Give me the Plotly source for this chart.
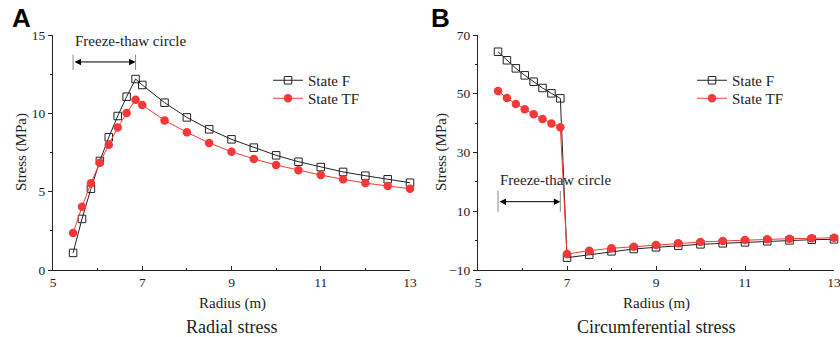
import plotly.graph_objects as go

radius = [5.45, 5.65, 5.85, 6.05, 6.25, 6.45, 6.65, 6.85, 7.0, 7.5, 8.0, 8.5,
          9.0, 9.5, 10.0, 10.5, 11.0, 11.5, 12.0, 12.5, 13.0]

radial_F = [1.09, 3.26, 5.19, 6.96, 8.47, 9.83, 11.06, 12.19, 11.81, 10.68, 9.74,
            8.98, 8.34, 7.81, 7.32, 6.91, 6.57, 6.26, 6.02, 5.79, 5.57]
radial_TF = [2.36, 4.04, 5.53, 6.85, 8.00, 9.09, 10.02, 10.87, 10.53, 9.55, 8.79,
             8.11, 7.55, 7.09, 6.70, 6.36, 6.06, 5.79, 5.55, 5.36, 5.19]

circ_F = [64.3, 61.4, 58.65, 56.27, 54.1, 51.96, 50.14, 48.44, -5.8, -4.78, -3.65,
          -2.85, -2.28, -1.72, -1.26, -0.92, -0.58, -0.24, 0.09, 0.32, 0.44]
circ_TF = [50.94, 48.55, 46.5, 44.7, 43.0, 41.4, 39.9, 38.57, -4.55, -3.42, -2.62,
           -2.06, -1.49, -0.92, -0.47, -0.13, 0.21, 0.44, 0.67, 0.78, 1.0]

x_ticks = [5, 7, 9, 11, 13]
yA_ticks = [0, 5, 10, 15]
yB_ticks = [-10, 10, 30, 50, 70]

series_names = ["State F", "State TF"]
panel_titles = ["Radial stress", "Circumferential stress"]
panel_letters = ["A", "B"]
x_title = "Radius (m)"
y_title = "Stress (MPa)"
band_label = "Freeze-thaw circle"
band_start, band_end = 5.45, 6.85

W, H = 840, 337
SERIF = "Liberation Serif"
BLACK = "#222222"
RED = "#f73838"

fig = go.Figure()

def add_pair(xref, yref, yF, yTF, legF, legTF):
    fig.add_trace(go.Scatter(
        x=radius, y=yF, name=series_names[0], mode="lines+markers",
        xaxis=xref, yaxis=yref, legend=legF, cliponaxis=False,
        line=dict(color=BLACK, width=1),
        marker=dict(symbol="square-open", size=7.5, color=BLACK, line=dict(width=1))))
    fig.add_trace(go.Scatter(
        x=radius, y=yTF, name=series_names[1], mode="lines+markers",
        xaxis=xref, yaxis=yref, legend=legTF, cliponaxis=False,
        line=dict(color=RED, width=1),
        marker=dict(symbol="circle", size=8.5, color=RED)))

add_pair("x", "y", radial_F, radial_TF, "legend", "legend3")
add_pair("x2", "y2", circ_F, circ_TF, "legend2", "legend4")

ydom = [1 - 270 / H, 1 - 35 / H]
axis_common = dict(showline=True, linecolor=BLACK, linewidth=1,
                   ticklen=4, tickcolor=BLACK, showgrid=False, zeroline=False,
                   automargin=False, ticklabeloverflow="allow",
                   tickfont=dict(family=SERIF, size=13.5, color=BLACK))
x_common = dict(ticks="inside", minor=dict(ticks="inside", ticklen=2, tickcolor=BLACK, dtick=1),
                **axis_common)
y_common = dict(ticks="outside", **axis_common)

def leg(xpx, ypx):
    return dict(x=xpx / W, y=1 - ypx / H, xanchor="left", yanchor="top",
                bgcolor="rgba(0,0,0,0)", font=dict(family=SERIF, size=15, color=BLACK),
                itemwidth=30, tracegroupgap=0)

fig.update_layout(
    width=W, height=H, margin=dict(l=0, r=0, t=0, b=0, autoexpand=False),
    paper_bgcolor="white", plot_bgcolor="white",
    font=dict(family=SERIF, color=BLACK),
    xaxis=dict(domain=[53 / W, 410 / W], range=[5, 13], tickvals=x_ticks,
               anchor="y", **x_common),
    yaxis=dict(domain=ydom, range=[0, 15], tickvals=yA_ticks, anchor="x",
               minor=dict(ticks="outside", ticklen=2, tickcolor=BLACK, dtick=2.5),
               **y_common),
    xaxis2=dict(domain=[478 / W, 834 / W], range=[5, 13], tickvals=x_ticks,
                anchor="y2", **x_common),
    yaxis2=dict(domain=ydom, range=[-10, 70], tickvals=yB_ticks, anchor="x2",
                minor=dict(ticks="outside", ticklen=2, tickcolor=BLACK, dtick=10),
                **y_common),
    legend=leg(268, 64),
    legend3=leg(268, 82),
    legend2=leg(692, 64),
    legend4=leg(692, 82),
    showlegend=True,
)

ann = []
shapes = []
C = dict(xanchor="center", yanchor="middle")
# axis titles and panel subtitles
for i, (xc, letter_x) in enumerate([(232, 21), (656, 440)]):
    ann.append(dict(x=xc / W, y=1 - 303 / H, xref="paper", yref="paper",
                    text=x_title, showarrow=False, **C,
                    font=dict(family=SERIF, size=15, color=BLACK)))
    ann.append(dict(x=xc / W, y=1 - 327 / H, xref="paper", yref="paper",
                    text=panel_titles[i], showarrow=False, **C,
                    font=dict(family=SERIF, size=18, color=BLACK)))
    ann.append(dict(x=letter_x / W, y=1 - 18 / H, xref="paper", yref="paper",
                    text="<b>" + panel_letters[i] + "</b>", showarrow=False, **C,
                    font=dict(family="Liberation Sans", size=26, color="black")))
for yx, yc in [(21, 152), (441, 152)]:
    ann.append(dict(x=yx / W, y=1 - yc / H, xref="paper", yref="paper",
                    text=y_title, showarrow=False, textangle=-90, **C,
                    font=dict(family=SERIF, size=15, color=BLACK)))

# freeze-thaw annotations
for xr, yr, y_arrow, y_lo, y_hi, y_text in [("x", "y", 13.28, 12.77, 13.75, 13.95),
                                             ("x2", "y2", 13.25, 9.8, 17.0, 17.4)]:
    ann.append(dict(x=band_end, y=y_arrow, ax=band_start, ay=y_arrow,
                    xref=xr, yref=yr, axref=xr, ayref=yr, text="",
                    showarrow=True, arrowhead=2, startarrowhead=2,
                    arrowside="end+start", arrowsize=1.3, arrowwidth=1,
                    arrowcolor="black", standoff=0, startstandoff=0))
    ann.append(dict(x=band_start, y=y_text, xref=xr, yref=yr, xanchor="left",
                    yanchor="bottom", text=band_label, showarrow=False,
                    font=dict(family=SERIF, size=15, color=BLACK)))
    for xv in (band_start, band_end):
        shapes.append(dict(type="line", xref=xr, yref=yr, x0=xv, x1=xv,
                           y0=y_lo, y1=y_hi, line=dict(color="#888888", width=1)))

fig.update_layout(annotations=ann, shapes=shapes)
fig.write_html("out.html")
